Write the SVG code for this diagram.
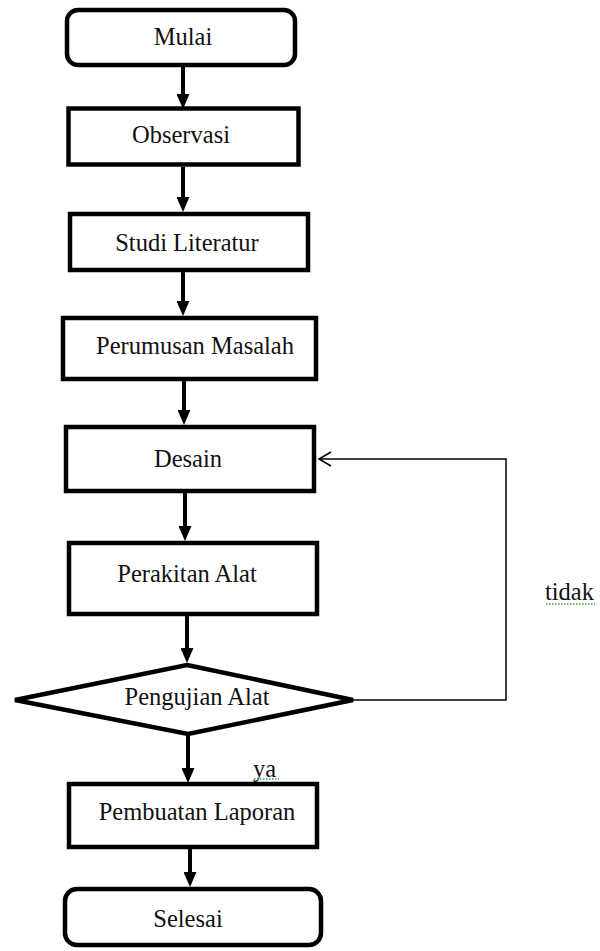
<svg xmlns="http://www.w3.org/2000/svg" width="600" height="951" viewBox="0 0 600 951">
  <style>
    .box { fill: #ffffff; stroke: #000000; stroke-width: 4.5; }
    .lbl { font-family: "Liberation Serif", "Times New Roman", serif; font-size: 24.5px; fill: #111111; text-anchor: middle; }
    .note { font-family: "Liberation Serif", "Times New Roman", serif; font-size: 24.5px; fill: #111111; }
    .flow { stroke: #000000; stroke-width: 4; fill: none; }
    .back { stroke: #000000; stroke-width: 1.5; fill: none; }
    .squig { stroke: #3aa63a; stroke-width: 1.5; stroke-dasharray: 1.5 1.5; fill: none; }
  </style>
  <defs>
    <marker id="arrow" viewBox="0 0 15 13" refX="0" refY="6.5" markerWidth="15" markerHeight="13" markerUnits="userSpaceOnUse" orient="auto">
      <path d="M0,0 L15,6.5 L0,13 Z" fill="#000000"/>
    </marker>
  </defs>

  <g id="connectors">
    <line class="flow" x1="183" y1="67" x2="183" y2="94" marker-end="url(#arrow)"/>
    <line class="flow" x1="183" y1="167" x2="183" y2="197" marker-end="url(#arrow)"/>
    <line class="flow" x1="183" y1="272" x2="183" y2="301" marker-end="url(#arrow)"/>
    <line class="flow" x1="184" y1="381" x2="184" y2="410" marker-end="url(#arrow)"/>
    <line class="flow" x1="185" y1="493" x2="185" y2="526" marker-end="url(#arrow)"/>
    <line class="flow" x1="187" y1="616" x2="187" y2="648" marker-end="url(#arrow)"/>
    <line class="flow" x1="188" y1="733" x2="188" y2="768" marker-end="url(#arrow)"/>
    <line class="flow" x1="190" y1="849" x2="190" y2="872" marker-end="url(#arrow)"/>
    <polyline class="back" points="353,700 506,700 506,459 319,459"/>
    <polyline class="back" points="331,452 319,459 331,466"/>
  </g>

  <g id="mulai">
    <rect class="box" x="67" y="10" width="228" height="55" rx="11"/>
    <text class="lbl" x="183" y="45">Mulai</text>
  </g>
  <g id="observasi">
    <rect class="box" x="68.5" y="108.5" width="230" height="56"/>
    <text class="lbl" x="181" y="143">Observasi</text>
  </g>
  <g id="studi-literatur">
    <rect class="box" x="70" y="214" width="238" height="56"/>
    <text class="lbl" x="187" y="251">Studi Literatur</text>
  </g>
  <g id="perumusan-masalah">
    <rect class="box" x="63" y="318" width="253" height="61"/>
    <text class="lbl" x="195" y="354">Perumusan Masalah</text>
  </g>
  <g id="desain">
    <rect class="box" x="66" y="427" width="248" height="64"/>
    <text class="lbl" x="188" y="467">Desain</text>
  </g>
  <g id="perakitan-alat">
    <rect class="box" x="69" y="543" width="248" height="71"/>
    <text class="lbl" x="187" y="582">Perakitan Alat</text>
  </g>
  <g id="pengujian-alat">
    <polygon class="box" points="187,665 353,700 188,734 15,700"/>
    <text class="lbl" x="197" y="705">Pengujian Alat</text>
  </g>
  <g id="pembuatan-laporan">
    <rect class="box" x="69" y="784" width="248" height="63"/>
    <text class="lbl" x="197" y="820">Pembuatan Laporan</text>
  </g>
  <g id="selesai">
    <rect class="box" x="65" y="889" width="256" height="56" rx="12"/>
    <text class="lbl" x="188" y="927">Selesai</text>
  </g>

  <g id="labels">
    <text class="note" x="545" y="600">tidak</text>
    <line class="squig" x1="546" y1="604" x2="595" y2="604"/>
    <text class="note" x="253" y="777">ya</text>
    <line class="squig" x1="254" y1="779" x2="279" y2="779"/>
  </g>
</svg>
